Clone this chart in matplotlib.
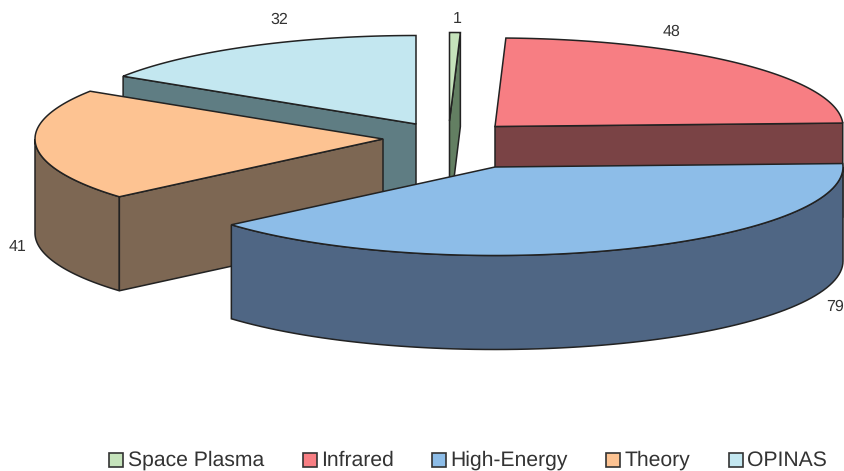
import numpy as np
import matplotlib
matplotlib.use('Agg')
import matplotlib.pyplot as plt
from matplotlib.patches import Polygon, Rectangle

categories = ['Space Plasma', 'Infrared', 'High-Energy', 'Theory', 'OPINAS']
values = [1, 48, 79, 41, 32]
top_colors = ['#c5e3bb', '#f77e83', '#8dbde8', '#fdc392', '#c3e7f0']
side_colors = ['#637f62', '#7a4345', '#4f6684', '#7d6753', '#5f7d83']

# slice apex in pixels, each one is exploded on its own
centers = [(449.5, 121), (495, 126.5), (495, 167), (383, 139), (416, 124)]
label_pos = [(457, 19), (672, 32), (835, 307), (18, 247), (279, 20)]
legend_box_x = [109.5, 303, 432, 606, 729]
legend_text_x = [128, 321, 450, 625, 747]

RX, RY, DEPTH = 348, 88.5, 94
EDGE = '#222222'
LW = 1.1


def rim(c, a0, a1, n=80):
    # angles clockwise from 12 o'clock
    t = np.radians(np.linspace(a0, a1, n))
    return np.column_stack([c[0] + RX * np.sin(t), c[1] - RY * np.cos(t)])


def draw_slice(ax, c, a0, a1, top, side):
    down = np.array([0, DEPTH])
    # outer wall, only the part turned to the viewer
    w0, w1 = max(a0, 90), min(a1, 270)
    if w1 > w0:
        r = rim(c, w0, w1)
        ax.add_patch(Polygon(np.vstack([r, (r + down)[::-1]]), fc=side, ec=EDGE, lw=LW))
    # cut faces
    for a, front in ((a0, np.sin(np.radians(a0)) < -1e-6), (a1, np.sin(np.radians(a1)) > 1e-6)):
        if front:
            p = rim(c, a, a, 1)[0]
            c_ = np.array(c, dtype=float)
            ax.add_patch(Polygon([c_, p, p + down, c_ + down], fc=side, ec=EDGE, lw=LW))
    ax.add_patch(Polygon(np.vstack([[c], rim(c, a0, a1)]), fc=top, ec=EDGE, lw=LW))


plt.rcParams['font.family'] = ['Liberation Sans', 'DejaVu Sans']
plt.rcParams['text.hinting'] = 'no_hinting'
fig = plt.figure(figsize=(8.45, 4.71), dpi=100)
ax = fig.add_axes([0, 0, 1, 1])
ax.set_xlim(0, 845)
ax.set_ylim(471, 0)
ax.axis('off')

edges = np.concatenate([[0], np.cumsum(values)]) / sum(values) * 360
# back slices first
for i in [4, 0, 1, 3, 2]:
    draw_slice(ax, centers[i], edges[i], edges[i + 1], top_colors[i], side_colors[i])

for v, (x, y) in zip(values, label_pos):
    ax.text(x, y, str(v), ha='center', va='center', fontsize=11.5, color='#333333')

for name, col, bx, tx in zip(categories, top_colors, legend_box_x, legend_text_x):
    ax.add_patch(Rectangle((bx, 452.8), 14, 14, fc=col, ec='#333333', lw=1.2))
    ax.text(tx, 460.5, name, ha='left', va='center', fontsize=15.2, color='#333333')

fig.savefig('out.png', dpi=100)
